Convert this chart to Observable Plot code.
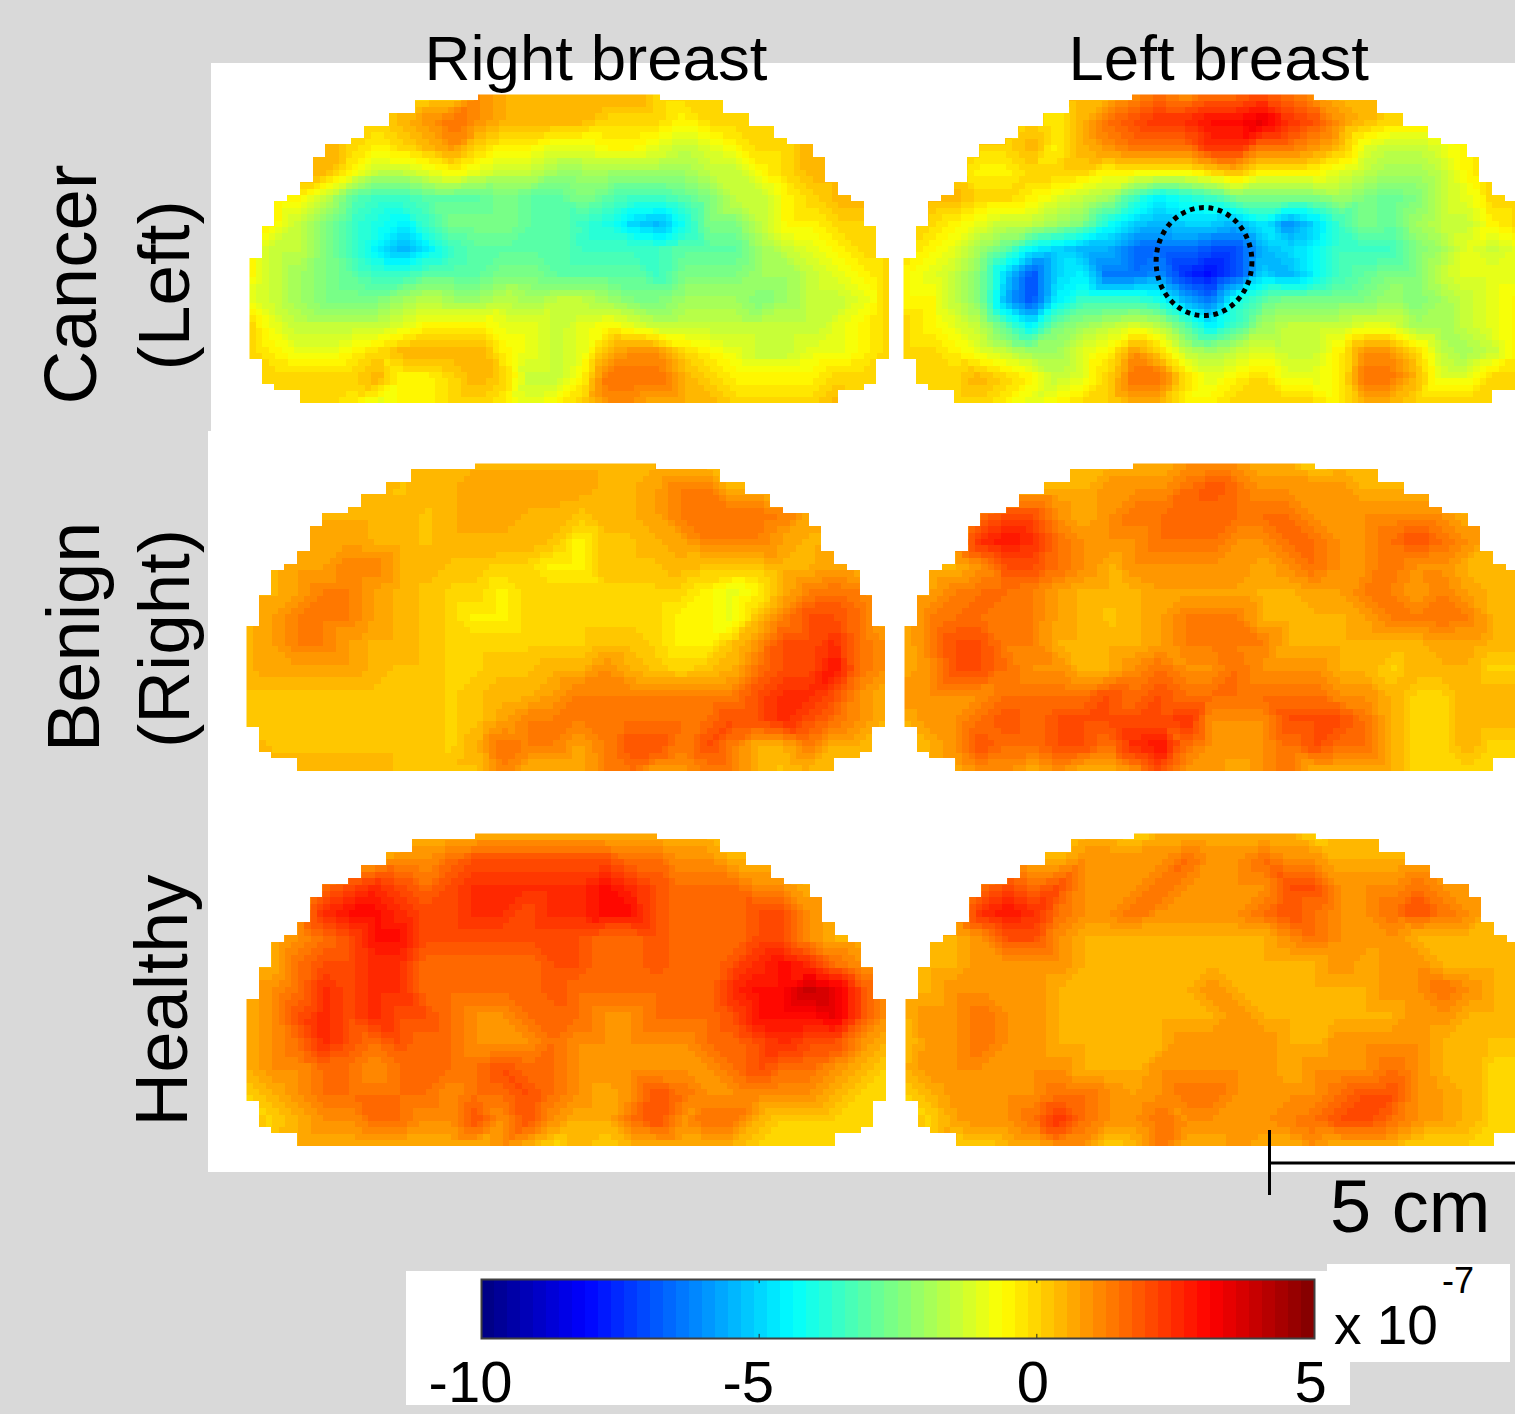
<!DOCTYPE html>
<html><head><meta charset="utf-8">
<script src="https://cdn.jsdelivr.net/npm/d3@7"></script>
<script src="https://cdn.jsdelivr.net/npm/@observablehq/plot@0.6"></script>
<style>
html,body{margin:0;padding:0;background:#d9d9d9;overflow:hidden}
#page{position:relative;width:1515px;height:1414px;overflow:hidden;background:#d9d9d9;font-family:"Liberation Sans",Arial,sans-serif;color:#000}
.white{position:absolute;background:#fff}
.abs{position:absolute;left:0;top:0}
.lbl{position:absolute;left:0;top:0;white-space:nowrap;line-height:1;transform-origin:0 0}
</style></head><body><div id="page"></div>
<script>
// Value key: a = -8.5 up to z = 4 (x 10^-7) in steps of 0.5; a capital letter adds 0.25
const levelKeys = "abcdefghijklmnopqrstuvwxyz";

const cancerRightBreast = [
"rrrrrrrrrtssssssrrrrrrrrrr",
"rrrrrrstutssssrrrqrrrrrrrr",
"ssssrqrstrqqppqqpopqrrssss",
"ssssqoopqpoonnnnnnooqrssss",
"qqqol"+"kklll"+"mllml"+"kklmo"+"oqrss"+"r",
"qqomk"+"jikmm"+"mllkj"+"hgjmm"+"oqqrr"+"r",
"qoomk"+"igikl"+"lllkk"+"kklll"+"nopqr"+"r",
"qonml"+"kklll"+"mmlll"+"lkmmm"+"nnopq"+"r",
"ponmmmnonnonoonmmnnnmnoopr",
"rpoooopqqqppopqpooooooopqr",
"rqppqrssssqpopsttrqpooppqr",
"rrrrrsqqrsrooquuusrqqqqrrr",
"rrrrqpqqrrqpqrttsssrrrrsrr"];
const cancerLeftBreast = [
"ssssssssstutuuvutsssssssss",
"sssssrqsuvwwxxywvtsrrrrrrr",
"rrrrrsqstuuuwwuutspoopqrrr",
"rrrqqrrrqqqqrsqqqponnoqrrr",
"sssrrqponkijkmmmmnmlmoprrr",
"rrqpoonmjhghhgifhkmlnooqrr",
"rqpnl"+"ihgge"+"eeddg"+"hikkk"+"mnpop"+"q",
"qpomh"+"dhiee"+"fcbdh"+"giklm"+"moppp"+"q",
"qqomg"+"dikkk"+"jgejl"+"mmmmn"+"mnopq"+"r",
"rqpol"+"imnop"+"olikn"+"ooopp"+"nnopq"+"r",
"rrqponnpqtronopooqttronoqr",
"rrrsrqopruurpqrppquuspprrr",
"rrrrqpqrrssqqrrrrqssrrrrrr"];
const benignRightBreast = [
"ssssssssssssssssssssssssss",
"ssssssRssSSSSSssSTTsssssss",
"sssssssRsSSssRssSTTuuTSsss",
"sssSS"+"ssRss"+"ssRqR"+"RsSTT"+"TSsss"+"s",
"ssSST"+"TssRR"+"rrqqR"+"RRsRR"+"RssSs"+"s",
"ssSTT"+"SsRrr"+"qrrrr"+"rrrqp"+"qsTuT"+"s",
"sSTTT"+"SsRrq"+"qrrrr"+"rrqqp"+"RTvvu"+"s",
"sSTTS"+"ssRrr"+"rrrrR"+"RrqqR"+"tvvwu"+"t",
"sSSSS"+"sRRrr"+"RRsst"+"sRrRs"+"uvvxu"+"t",
"RRRRR"+"RRRrR"+"ssSTT"+"TTTTT"+"vwwvt"+"s",
"RRRRR"+"RRRrR"+"STTTT"+"uuuuv"+"vwvut"+"s",
"sRRRR"+"RRRrs"+"uTTST"+"vvTvT"+"ssTss"+"s",
"sssss"+"sRRRR"+"TsssT"+"uSSTT"+"sRsss"+"s"];
const benignLeftBreast = [
"sssssssssssttt"+"ssr"+"sssssssss",
"ssssss"+"sstttuvuttttss"+"ssssss",
"sss"+"uvvtst"+"uuuuuuu"+"tttttt"+"s"+"sss",
"sstwxwutttuuuttuuttuvutsss",
"ssstvvuts"+"ttttt"+"stu"+"tt"+"u"+"tt"+"ssss",
"sSTuuTSsssSSSSssSSTT"+"STSsss",
"sTuuTTSsRsSTTTssssSTTuTss"+"s",
"sTvvTTssssSTTTTssssssSSsss",
"stvvuttsstuttuttt"+"ssrsssrrr",
"ttttuuuuvuvuuuuuuttsrrssss",
"sttuvuvvvvvwtttvvvusrrssss",
"sstvuuvvuwxutttuvuusrrsrrr",
"ssstt"+"stsst"+"vttst"+"ussss"+"rrrrr"+"r"];
const healthyRightBreast = [
"ssssssssssssssssssssssssss",
"ssssss"+"ttuvvvvvvuutts"+"ssssss",
"sss"+"uvwvuvwwwwwxwvuuuttssss",
"sst"+"wxxwvvwwvwwxxvuuuvvtsss",
"sstuvxxvvvvvvvuuvuuuvvtsss",
"ssuvvwwuuuuuvvuuvuuvwxwuts",
"stuwvwwuuuuuvuuuuuuwxxzyvt",
"stvwvwvvuttuuuttuuuvxxxyvt",
"stuwvuvuuttt"+"utttttuuvwvvts",
"sttuutuuuuvuuttttttuvuutsr",
"rstuuuuutuuvutstvutttttsrr",
"srsttuuttvtvtssuvtuusrrrrr",
"sssssssssstsrsrsssssrrrrrr"];
const healthyLeftBreast = [
"sssssssssrssssssrsssssssss",
"ssssss"+"sttttuttutt"+"sss"+"ssssss",
"sss"+"uvuvtttuttttvvttt"+"uttssss",
"sst"+"wxwuttuttttuvuttuvutsss",
"ssstvvtsssssssstutttssssss",
"sssttttsssssssssststtsssss",
"ssttttsssssstssssssttutsss",
"sttuttssssssstssssssttssss",
"RttuttsssssttttssttttssRRR",
"sttttttssstttttstttutssrrr",
"rsttttuutStuuttttuvvtSsrrr",
"srSttuwuttuttttTuvvutSsrrr",
"ssrrs"+"sttrs"+"ussts"+"stsss"+"rrrrr"+"r"];

// Stepped breast outline: how many columns are cut from each side, over runs of rows
const outlineRuns = [1,2,2,2,1,2,4,2,1,4,5,16,4,1,2];
const outlineCut  = [18,13,11,9,8,6,5,4,3,2,1,0,1,2,4];

const columnLabels = ["Right breast","Left breast"];
const rowLabels = [["Cancer","(Left)"],["Benign","(Right)"],["Healthy"]];
const colorbarTicksNegative = [-10,-5];
const colorbarTicksOther = [0,5];
const scaleBarCm = 5;
const lesion = [{col:23.57,row:26.5}];

const page = document.getElementById("page");
const FONT = '"Liberation Sans",Arial,sans-serif';

function whiteBox(l,t,r,b){const d=document.createElement("div");d.className="white";
  d.style.cssText=`left:${l}px;top:${t}px;width:${r-l}px;height:${b-t}px`;page.appendChild(d);}
whiteBox(211,63,1515,431);
whiteBox(208,431,1515,1172);
whiteBox(406,1271,1350,1405);
whiteBox(1327,1264,1510,1362);

const jet = t=>{
  const i=Math.min(63,Math.max(0,Math.floor(t*64))), u=(i+.5)/64;
  const c=v=>Math.round(255*Math.max(0,Math.min(1,v)));
  return `rgb(${c(1.5-Math.abs(4*u-3))},${c(1.5-Math.abs(4*u-2))},${c(1.5-Math.abs(4*u-1))})`;
};
const colorScale={type:"linear",domain:[-10,5],interpolate:jet,clamp:true};
const levelValue=ch=>{
  const low=ch.toLowerCase();
  return -8.5+.5*levelKeys.indexOf(low)+(ch===low?0:.25);
};

const COLS=50.2, ROWS=49, GRID_COLS=25, GRID_ROWS=12;
const cutRows=outlineRuns.flatMap((n,i)=>d3.range(n).map(()=>outlineCut[i]));
const mask=cutRows.map((cut,row)=>({row,cut}));

function panel(rows,left,top,w,h,extra=[]){
  const cells=rows.flatMap((s,r)=>Array.from(s.padEnd(26,s[s.length-1])).slice(0,26).map((ch,j)=>({
    col:j*COLS/GRID_COLS,row:r*ROWS/GRID_ROWS,value:levelValue(ch)})));
  const over=0.4;
  const svg=Plot.plot({
    width:w,height:h,margin:0,axis:null,
    style:{background:"transparent"},
    x:{domain:[0,COLS],range:[0,w]},
    y:{domain:[0,ROWS],range:[0,h]},
    color:colorScale,
    marks:[
      Plot.raster(cells,{x:"col",y:"row",fill:"value",interpolate:"barycentric",
        x1:0,x2:COLS,y1:0,y2:ROWS,width:100,height:49,imageRendering:"pixelated"}),
      Plot.rect(mask,{x1:-over,x2:"cut",y1:"row",y2:d=>d.row+1,fill:"white",shapeRendering:"crispEdges"}),
      Plot.rect(mask,{x1:d=>COLS-d.cut,x2:COLS+over,y1:"row",y2:d=>d.row+1,fill:"white",shapeRendering:"crispEdges"}),
      Plot.rect([0],{x1:-over,x2:COLS+over,y1:ROWS,y2:ROWS+.6,fill:"white",shapeRendering:"crispEdges"}),
      ...extra
    ]});
  svg.setAttribute("class","abs");
  svg.style.left=left+"px";svg.style.top=top+"px";
  svg.style.overflow="visible";
  page.appendChild(svg);
}

const ellipseSymbol={draw(ctx,size){
  const ry=Math.sqrt(size/Math.PI), rx=ry*0.887, k=0.5523;
  ctx.moveTo(rx,0);
  ctx.bezierCurveTo(rx,k*ry,k*rx,ry,0,ry);
  ctx.bezierCurveTo(-k*rx,ry,-rx,k*ry,-rx,0);
  ctx.bezierCurveTo(-rx,-k*ry,-k*rx,-ry,0,-ry);
  ctx.bezierCurveTo(k*rx,-ry,rx,-k*ry,rx,0);
  ctx.closePath();
}};

panel(cancerRightBreast,249,94,640,309);
panel(cancerLeftBreast,903,94,640,309,[
  Plot.dot(lesion,{x:"col",y:"row",r:54,symbol:ellipseSymbol,fill:"none",stroke:"black",strokeWidth:5,strokeDasharray:"4.8,4.6"})
]);
panel(benignRightBreast,246,463,639,308);
panel(benignLeftBreast,904,463,640,308);
panel(healthyRightBreast,246,833,640,313);
panel(healthyLeftBreast,905,833,640,313);

// Colour bar
const levels=d3.range(64).map(i=>({a:-10+15*i/64,b:-10+15*(i+1)/64}));
const bar=Plot.plot({
  width:944,height:134,marginTop:8,marginBottom:67,marginLeft:75,marginRight:36,
  style:{background:"transparent",fontFamily:FONT,color:"#000"},
  x:{domain:[-10,5],range:[75,908]},
  y:{domain:[0,1],axis:null},
  color:colorScale,
  marks:[
    Plot.rectY(levels,{x1:"a",x2:"b",y1:0,y2:1,fill:d=>(d.a+d.b)/2,shapeRendering:"crispEdges"}),
    Plot.ruleX([-5,0],{y1:0,y2:.07,stroke:"#222",strokeWidth:1}),
    Plot.ruleX([-5,0],{y1:.93,y2:1,stroke:"#222",strokeWidth:1}),
    Plot.frame({stroke:"#404040",strokeWidth:2}),
    Plot.axisX(colorbarTicksNegative,{anchor:"bottom",tickSize:0,tickPadding:22,fontSize:58,dx:-11,tickFormat:d=>String(d),label:null}),
    Plot.axisX(colorbarTicksOther,{anchor:"bottom",tickSize:0,tickPadding:22,fontSize:58,dx:-4,tickFormat:d=>String(d),label:null})
  ]});
bar.setAttribute("class","abs");bar.style.left="406px";bar.style.top="1271px";bar.style.overflow="visible";
page.appendChild(bar);

// Scale bar
const sb=Plot.plot({
  width:248,height:66,margin:0,axis:null,
  style:{background:"transparent"},
  x:{domain:[0,scaleBarCm],range:[2,248]},
  y:{domain:[0,1],range:[65,0]},
  marks:[
    Plot.ruleX([0],{y1:0,y2:1,stroke:"black",strokeWidth:3}),
    Plot.ruleY([0.5],{x1:0,x2:scaleBarCm,stroke:"black",strokeWidth:3})
  ]});
sb.setAttribute("class","abs");sb.style.left="1267px";sb.style.top="1130px";
page.appendChild(sb);

function label(text,x,y,size,rot=0){
  const d=document.createElement("div");d.className="lbl";d.textContent=text;
  d.style.fontSize=size+"px";
  d.style.transform=`translate(${x}px,${y}px) rotate(${rot}deg) translateY(${-0.8465*size}px)`;
  page.appendChild(d);
}
label(columnLabels[0],424.5,79.5,63.6);
label(columnLabels[1],1068.5,79.5,63.6);
label(rowLabels[0][0],97.5,404.5,74.5,-90);
label(rowLabels[0][1],189,370.5,73,-90);
label(rowLabels[1][0],100,752,74,-90);
label(rowLabels[1][1],189,748,73,-90);
label(rowLabels[2][0],188,1126.5,74.3,-90);
label(scaleBarCm+" cm",1330,1233,74);
label("x 10",1334,1345,55);
label("-7",1442,1293,36);
</script></body></html>
